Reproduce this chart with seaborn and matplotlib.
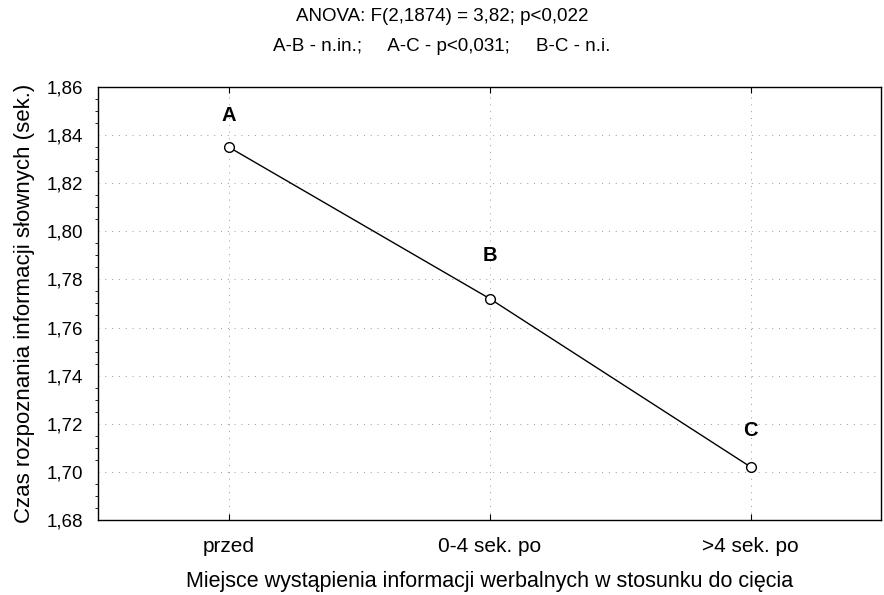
import numpy as np
import pandas as pd
import matplotlib
matplotlib.use('Agg')
import matplotlib.pyplot as plt
from matplotlib.ticker import MultipleLocator, FuncFormatter
import seaborn as sns

# dane
kategorie = ['przed', '0-4 sek. po', '>4 sek. po']
czas = [1.835, 1.772, 1.702]
etykiety = ['A', 'B', 'C']

sns.set_style('white')
plt.rcParams['font.family'] = ['Liberation Sans', 'DejaVu Sans']
plt.rcParams.update({'text.color': 'black', 'axes.labelcolor': 'black',
                     'xtick.color': 'black', 'ytick.color': 'black'})

df = pd.DataFrame({'miejsce': kategorie, 'czas': czas})

fig, ax = plt.subplots(figsize=(8.84, 5.95), dpi=100)
fig.subplots_adjust(left=0.111, right=0.997, top=0.854, bottom=0.126)

sns.lineplot(data=df, x='miejsce', y='czas', sort=False, color='black',
             linewidth=1, marker='o', markersize=7, markerfacecolor='white',
             markeredgecolor='black', markeredgewidth=1, ax=ax)

# litery nad punktami
for i, (lab, v) in enumerate(zip(etykiety, czas)):
    off = [23, 31, 26][i]
    ax.annotate(lab, (i, v), xytext=(0, off), textcoords='offset points',
                ha='center', va='center', fontsize=14.5, fontweight='bold')

ax.set_xlim(-0.5, 2.5)
ax.set_ylim(1.68, 1.86)
ax.yaxis.set_major_locator(MultipleLocator(0.02))
ax.yaxis.set_minor_locator(MultipleLocator(0.005))
ax.yaxis.set_major_formatter(FuncFormatter(lambda v, p: f'{v:.2f}'.replace('.', ',')))

ax.grid(True, which='major', color='#999999', linestyle=(0, (1, 6)), linewidth=0.7)
for s in ax.spines.values():
    s.set_color('black')
    s.set_linewidth(1)

ax.tick_params(axis='y', which='major', labelsize=13.5, length=4, direction='out', color='black', pad=7)
ax.tick_params(axis='y', which='minor', length=2, direction='out', left=True)
ax.tick_params(axis='x', which='major', labelsize=15, direction='in', length=4,
               top=True, bottom=True, pad=12)

ax.set_xlabel('Miejsce wystąpienia informacji werbalnych w stosunku do cięcia', fontsize=15.5, labelpad=11)
ax.set_ylabel('Czas rozpoznania informacji słownych (sek.)', fontsize=16, labelpad=8)

fig.text(0.5, 0.972, 'ANOVA: F(2,1874) = 3,82; p<0,022', ha='center', va='center', fontsize=13.5)
fig.text(0.5, 0.922, 'A-B - n.in.;     A-C - p<0,031;     B-C - n.i.', ha='center', va='center', fontsize=13.5)

fig.savefig('out.png', dpi=100)
